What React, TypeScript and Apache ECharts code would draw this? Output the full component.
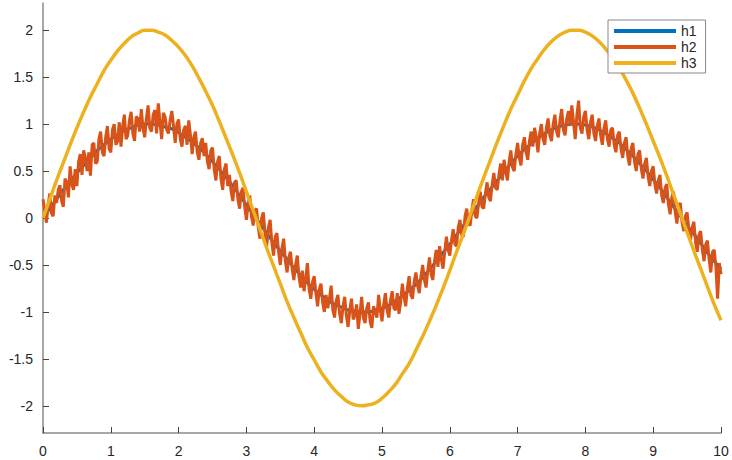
import React, { useEffect, useRef } from "react";
import * as echarts from "echarts";

// Sample steps of the series (x runs from 0 to 10)
const stepSmooth = 0.1;
const stepNoisy = 0.025;

const yTicks = [-2, -1.5, -1, -0.5, 0, 0.5, 1, 1.5, 2];
const legendNames = ["h1", "h2", "h3"];

// h1: clean sine (mostly hidden under h2)
const h1 = [
  0, 0.10, 0.20, 0.30, 0.39, 0.48, 0.56, 0.64, 0.72, 0.78,
  0.84, 0.89, 0.93, 0.96, 0.99, 1.00, 1.00, 0.99, 0.97, 0.95,
  0.91, 0.86, 0.81, 0.75, 0.68, 0.60, 0.52, 0.43, 0.34, 0.24,
  0.14, 0.04, -0.06, -0.16, -0.26, -0.35, -0.44, -0.53, -0.61, -0.69,
  -0.76, -0.82, -0.87, -0.92, -0.95, -0.98, -0.99, -1.00, -1.00, -0.98,
  -0.96, -0.93, -0.88, -0.83, -0.77, -0.71, -0.63, -0.55, -0.46, -0.37,
  -0.28, -0.18, -0.08, 0.02, 0.12, 0.22, 0.31, 0.40, 0.49, 0.58,
  0.66, 0.73, 0.79, 0.85, 0.90, 0.94, 0.97, 0.99, 1.00, 1.00,
  0.99, 0.97, 0.94, 0.90, 0.85, 0.80, 0.73, 0.66, 0.58, 0.50,
  0.41, 0.32, 0.22, 0.12, 0.02, -0.08, -0.17, -0.27, -0.37, -0.46,
  -0.54,
];

// h2: noisy sine
const h2 = [
  0.20, 0.08, -0.05, 0.14, 0.26, 0.05, 0.02, 0.24, 0.16, 0.30, 0.35, 0.18, 0.12, 0.42, 0.38, 0.22, 0.55, 0.36, 0.30, 0.52,
  0.34, 0.60, 0.68, 0.46, 0.72, 0.64, 0.50, 0.70, 0.45, 0.78, 0.80, 0.58, 0.60, 0.84, 0.92, 0.70, 0.66, 0.86, 0.98, 0.74,
  0.70, 0.94, 1.00, 0.78, 0.82, 1.02, 0.76, 0.98, 1.10, 0.84, 0.88, 1.04, 1.13, 0.90, 0.82, 1.08, 1.06, 0.92, 1.16, 0.96,
  0.86, 1.06, 1.20, 0.96, 0.92, 1.10, 1.15, 0.90, 1.22, 1.02, 0.84, 1.12, 1.08, 0.94, 0.90, 1.04, 1.14, 0.98, 0.80, 1.00,
  1.05, 0.84, 0.76, 0.94, 0.98, 0.78, 1.04, 0.88, 0.68, 0.86, 0.92, 0.70, 0.62, 0.80, 0.85, 0.66, 0.80, 0.60, 0.52, 0.72,
  0.75, 0.52, 0.40, 0.60, 0.66, 0.42, 0.30, 0.52, 0.58, 0.34, 0.46, 0.28, 0.18, 0.38, 0.40, 0.20, 0.10, 0.28, 0.32, 0.12,
  -0.02, 0.14, 0.24, 0.02, -0.08, 0.08, 0.10, -0.10, -0.22, 0.00, 0.06, -0.16, -0.30, -0.10, -0.02, -0.26, -0.40, -0.20, -0.16, -0.36,
  -0.50, -0.32, -0.22, -0.46, -0.58, -0.42, -0.36, -0.54, -0.66, -0.50, -0.40, -0.62, -0.74, -0.56, -0.78, -0.64, -0.48, -0.76, -0.86, -0.68,
  -0.62, -0.80, -0.94, -0.76, -0.70, -0.90, -1.00, -0.82, -0.96, -0.86, -0.72, -0.98, -1.06, -0.88, -0.82, -1.02, -1.12, -0.94, -0.84, -1.04,
  -1.16, -0.98, -0.86, -1.08, -1.04, -0.92, -1.18, -1.02, -0.84, -1.06, -1.12, -0.96, -0.90, -1.10, -1.17, -0.94, -1.00, -1.06, -0.82, -0.98,
  -1.10, -0.92, -0.80, -0.98, -1.06, -0.88, -0.78, -0.96, -0.98, -0.80, -1.02, -0.90, -0.70, -0.84, -0.94, -0.74, -0.62, -0.82, -0.86, -0.68,
  -0.58, -0.72, -0.80, -0.62, -0.50, -0.66, -0.74, -0.56, -0.42, -0.60, -0.66, -0.46, -0.34, -0.52, -0.30, -0.44, -0.54, -0.36, -0.20, -0.34,
  -0.40, -0.24, -0.12, -0.28, -0.30, -0.10, -0.02, -0.18, -0.20, 0.02, 0.10, -0.06, -0.08, 0.08, 0.20, 0.02, 0.00, 0.16, 0.28, 0.12,
  0.10, 0.26, 0.38, 0.22, 0.18, 0.36, 0.48, 0.32, 0.30, 0.46, 0.58, 0.40, 0.62, 0.50, 0.40, 0.60, 0.72, 0.54, 0.50, 0.68,
  0.80, 0.64, 0.56, 0.78, 0.86, 0.70, 0.62, 0.82, 0.92, 0.76, 0.96, 0.86, 0.70, 0.90, 1.00, 0.84, 0.78, 0.96, 1.06, 0.88,
  0.82, 1.00, 1.10, 0.92, 0.86, 1.04, 1.16, 0.94, 0.88, 1.06, 1.14, 0.98, 1.20, 1.02, 0.84, 1.10, 1.25, 0.96, 0.90, 1.08,
  1.14, 0.94, 0.84, 1.02, 1.10, 0.90, 0.82, 0.98, 1.06, 0.88, 0.78, 0.96, 1.04, 0.84, 0.76, 0.94, 0.96, 0.78, 0.70, 0.88,
  0.92, 0.74, 0.64, 0.80, 0.86, 0.66, 0.56, 0.74, 0.80, 0.60, 0.50, 0.68, 0.72, 0.52, 0.42, 0.58, 0.64, 0.44, 0.34, 0.50,
  0.55, 0.36, 0.26, 0.40, 0.46, 0.24, 0.16, 0.32, 0.36, 0.14, 0.04, 0.22, 0.28, 0.06, -0.06, 0.12, 0.16, -0.04, -0.14, 0.02,
  0.06, -0.12, -0.24, -0.10, -0.04, -0.26, -0.36, -0.18, -0.14, -0.34, -0.46, -0.28, -0.24, -0.44, -0.58, -0.36, -0.34, -0.52, -0.86, -0.48,
  -0.60,
];

// h3: double-amplitude sine
const h3 = [
  0, 0.20, 0.40, 0.59, 0.78, 0.96, 1.13, 1.29, 1.43, 1.57,
  1.68, 1.78, 1.86, 1.93, 1.97, 2.00, 2.00, 1.98, 1.95, 1.89,
  1.82, 1.73, 1.62, 1.49, 1.35, 1.20, 1.03, 0.85, 0.67, 0.48,
  0.28, 0.08, -0.12, -0.32, -0.51, -0.70, -0.89, -1.06, -1.22, -1.38,
  -1.51, -1.64, -1.74, -1.83, -1.90, -1.96, -1.99, -2.00, -1.99, -1.97,
  -1.92, -1.85, -1.77, -1.66, -1.55, -1.41, -1.26, -1.10, -0.93, -0.75,
  -0.56, -0.36, -0.17, 0.03, 0.23, 0.43, 0.62, 0.81, 0.99, 1.16,
  1.31, 1.46, 1.59, 1.70, 1.80, 1.88, 1.94, 1.98, 2.00, 2.00,
  1.98, 1.94, 1.88, 1.80, 1.71, 1.60, 1.47, 1.33, 1.17, 1.00,
  0.82, 0.64, 0.45, 0.25, 0.05, -0.15, -0.35, -0.54, -0.73, -0.92,
  -1.09,
];

const toPairs = (vals: number[], step: number) =>
  vals.map((v, i) => [Number((i * step).toFixed(3)), v]);

export default function App() {
  const ref = useRef<HTMLDivElement>(null);
  useEffect(() => {
    if (!ref.current) return;
    const chart = echarts.init(ref.current, null, { renderer: "svg" });
    const font = "Liberation Sans, Arial, sans-serif";
    chart.setOption({
      animation: false,
      backgroundColor: "#fff",
      grid: { left: 43, right: 11, top: 3, bottom: 27, containLabel: false },
      legend: {
        data: legendNames,
        orient: "vertical",
        left: 608,
        top: 20,
        icon: "rect",
        itemWidth: 62,
        itemHeight: 4,
        itemGap: 2,
        padding: [4, 9, 3, 6],
        backgroundColor: "#fff",
        borderColor: "#888",
        borderWidth: 1,
        borderRadius: 0,
        textStyle: { fontFamily: font, fontSize: 14, color: "#262626" },
      },
      xAxis: {
        type: "value",
        min: 0,
        max: 10,
        interval: 1,
        axisLine: { show: true, onZero: false, lineStyle: { color: "#8a8a8a", width: 1.5 } },
        axisTick: { show: true, inside: true, length: 6, lineStyle: { color: "#444" } },
        axisLabel: { fontFamily: font, fontSize: 14, color: "#262626", margin: 11 },
        splitLine: { show: false },
      },
      yAxis: {
        type: "value",
        min: -2.29,
        max: 2.29,
        axisLine: { show: true, onZero: false, lineStyle: { color: "#8a8a8a", width: 1.5 } },
        axisTick: {
          show: true,
          inside: true,
          length: 6,
          customValues: yTicks,
          lineStyle: { color: "#444" },
        },
        axisLabel: {
          fontFamily: font,
          fontSize: 14,
          color: "#262626",
          margin: 10,
          customValues: yTicks,
        },
        splitLine: { show: false },
      },
      series: [
        {
          name: "h1",
          type: "line",
          data: toPairs(h1, stepSmooth),
          showSymbol: false,
          smooth: true,
          lineStyle: { color: "#0072BD", width: 3 },
          itemStyle: { color: "#0072BD" },
        },
        {
          name: "h2",
          type: "line",
          data: toPairs(h2, stepNoisy),
          showSymbol: false,
          lineStyle: { color: "#D95319", width: 3 },
          itemStyle: { color: "#D95319" },
        },
        {
          name: "h3",
          type: "line",
          data: toPairs(h3, stepSmooth),
          showSymbol: false,
          smooth: true,
          lineStyle: { color: "#EDB120", width: 3.5 },
          itemStyle: { color: "#EDB120" },
        },
      ],
    });
    return () => chart.dispose();
  }, []);
  return (
    <div
      ref={ref}
      style={{ position: "fixed", left: 0, top: 0, width: 732, height: 460 }}
    />
  );
}
